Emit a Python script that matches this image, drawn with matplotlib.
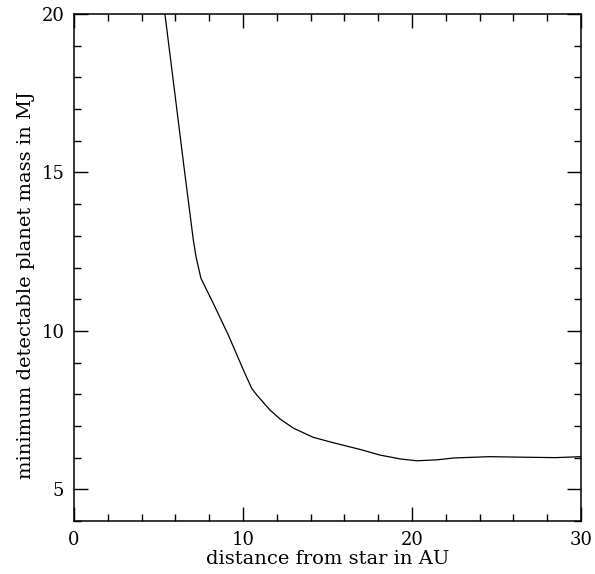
import matplotlib
matplotlib.use("Agg")
import matplotlib.pyplot as plt
from matplotlib.ticker import MultipleLocator

# distance from star (AU) vs minimum detectable planet mass (MJ)
distance_au = [5.38, 6.55, 7.06, 7.22, 7.51, 8.24, 9.13, 9.43, 10.02,
               10.51, 10.81, 11.60, 12.19, 12.98, 14.16, 15.34, 16.92, 18.11,
               19.29, 20.28, 21.46, 22.50, 24.60, 27.00, 28.50, 30.00]
min_mass_mj = [20.0, 15.0, 12.87, 12.34, 11.66, 10.87, 9.87, 9.50, 8.77,
               8.19, 7.98, 7.50, 7.22, 6.93, 6.64, 6.47, 6.26, 6.08,
               5.96, 5.90, 5.93, 5.99, 6.03, 6.01, 6.00, 6.03]

plt.rcParams["font.family"] = ["DejaVu Serif"]

fig = plt.figure(figsize=(5.95, 5.74), dpi=100)
ax = fig.add_axes([74 / 595, 53 / 574, 507 / 595, 507 / 574])

ax.plot(distance_au, min_mass_mj, color="black", linewidth=0.9)

ax.set_xlim(0, 30)
ax.set_ylim(4, 20)
ax.xaxis.set_major_locator(MultipleLocator(10))
ax.xaxis.set_minor_locator(MultipleLocator(2))
ax.yaxis.set_major_locator(MultipleLocator(5))
ax.yaxis.set_minor_locator(MultipleLocator(1))
ax.tick_params(which="both", direction="in", top=True, right=True,
               labelsize=13, width=1.0, pad=7)
ax.tick_params(which="major", length=10)
ax.tick_params(which="minor", length=5)
for s in ax.spines.values():
    s.set_linewidth(1.1)

ax.set_xlabel("distance from star in AU", fontsize=14, labelpad=1)
ax.set_ylabel("minimum detectable planet mass in MJ", fontsize=14)
ax.yaxis.set_label_coords(-0.077, 0.465)

fig.savefig("out.png", dpi=100)
